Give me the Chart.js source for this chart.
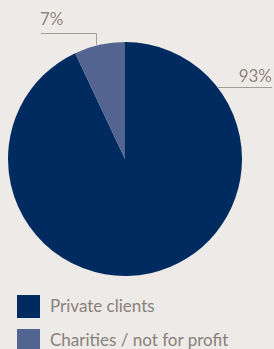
<!DOCTYPE html>
<html>
<head>
<meta charset="utf-8">
<script src="https://cdn.jsdelivr.net/npm/chart.js@4"></script>
<style>
  html, body { margin: 0; padding: 0; background: #eeeae7; width: 274px; height: 349px; overflow: hidden; }
  #wrap { position: absolute; left: 0; top: 0; width: 274px; height: 280px; }
  .legend { position: absolute; left: 17px; font-family: Lato, sans-serif; font-size: 17px; color: #86817b; }
  .legend span.box { position: absolute; left: 0; top: 0; width: 23px; height: 23px; }
  .legend span.txt { position: absolute; left: 33px; top: 0px; white-space: nowrap; }
</style>
</head>
<body>
<div id="wrap"><canvas id="pie"></canvas></div>
<div class="legend" style="top:295px"><span class="box" style="background:#002b61"></span><span class="txt">Private clients</span></div>
<div class="legend" style="top:329px"><span class="box" style="background:#52648f"></span><span class="txt">Charities / not for profit</span></div>
<script>
const labels = ["Private clients", "Charities / not for profit"];
const values = [93, 7];
const colors = ["#002b61", "#52648f"];

// Leader-line labels, drawn from the arc geometry
const leaderLabels = {
  id: "leaderLabels",
  afterDraw(chart) {
    const ctx = chart.ctx;
    const arcs = chart.getDatasetMeta(0).data;
    ctx.save();
    ctx.strokeStyle = "#a29d97";
    ctx.lineWidth = 1;
    ctx.fillStyle = "#8a857f";
    ctx.font = "17px Lato, sans-serif";
    ctx.textBaseline = "alphabetic";

    // 93% : line leaves the arc at upper right and runs right
    let a = arcs[0];
    let ang = a.startAngle + (a.endAngle - a.startAngle) * 0.155;
    let px = a.x + a.outerRadius * Math.cos(ang);
    let py = a.y + a.outerRadius * Math.sin(ang);
    ctx.beginPath();
    ctx.moveTo(px, Math.round(py) + 0.5);
    ctx.lineTo(272, Math.round(py) + 0.5);
    ctx.stroke();
    ctx.textAlign = "right";
    ctx.fillText(values[0] + "%", 272, Math.round(py) - 5);

    // 7% : line goes up from mid of slice then left
    a = arcs[1];
    ang = (a.startAngle + a.endAngle) / 2;
    px = Math.round(a.x + a.outerRadius * Math.cos(ang)) - 2.5;
    py = a.y + a.outerRadius * Math.sin(ang);
    ctx.beginPath();
    ctx.moveTo(px, py);
    ctx.lineTo(px, 33.5);
    ctx.lineTo(41, 33.5);
    ctx.stroke();
    ctx.textAlign = "left";
    ctx.fillText(values[1] + "%", 40, 25);
    ctx.restore();
  }
};

new Chart(document.getElementById("pie"), {
  type: "pie",
  data: {
    labels: labels,
    datasets: [{
      data: values,
      backgroundColor: colors,
      borderWidth: 0
    }]
  },
  options: {
    responsive: true,
    maintainAspectRatio: false,
    animation: false,
    layout: { padding: { left: 8, right: 32, top: 42, bottom: 4 } },
    plugins: {
      legend: { display: false },
      tooltip: { enabled: false }
    }
  },
  plugins: [leaderLabels]
});
</script>
</body>
</html>
